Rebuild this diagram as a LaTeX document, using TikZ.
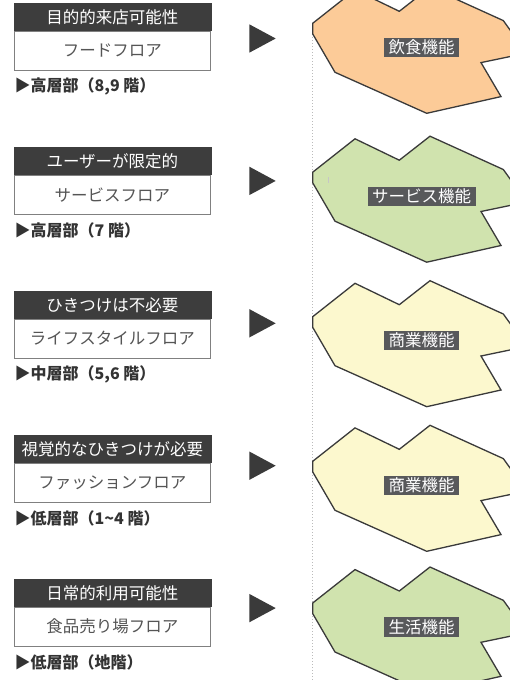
\documentclass[tikz,border=0pt]{standalone}
\usepackage{fontspec}
\setmainfont{Noto Sans CJK JP}
\definecolor{bargray}{HTML}{3D3D3D}
\definecolor{boxgray}{HTML}{808080}
\definecolor{floortext}{HTML}{555555}
\definecolor{notetext}{HTML}{333333}
\definecolor{trigray}{HTML}{3A3A3A}
\definecolor{outlinegray}{HTML}{3A3A3A}
\definecolor{labelgray}{HTML}{58595B}
\definecolor{peach}{HTML}{FCCB98}
\definecolor{leaf}{HTML}{D0E3AE}
\definecolor{cream}{HTML}{FCF8CE}
\definecolor{dotgray}{HTML}{BBBBBB}
\begin{document}
\begin{tikzpicture}[x=1pt,y=-1pt,
  titlebar/.style={fill=bargray, draw=bargray, minimum width=196.7pt, minimum height=27pt, inner sep=0pt, text=white, font=\fontsize{16.5}{16.5}\selectfont},
  floorbox/.style={draw=boxgray, line width=0.8pt, fill=white, minimum width=196.7pt, minimum height=39pt, inner sep=0pt, text=floortext, font=\fontsize{16.5}{16.5}\selectfont},
  levelnote/.style={anchor=west, inner sep=0pt, text=notetext, font=\bfseries\fontsize{16}{16}\selectfont},
  arrowtri/.style={fill=trigray},
  blobline/.style={draw=outlinegray, line width=1.3pt, line join=miter},
  funclabel/.style={fill=labelgray, text=white, inner xsep=4.5pt, inner ysep=2pt, font=\fontsize{16.5}{16.5}\selectfont},
  dotline/.style={draw=dotgray, line width=0.9pt, dash pattern=on 1pt off 2pt}
]
\useasboundingbox (0,0) rectangle (510,680);
\clip (0,0) rectangle (510,680);
\fill[white] (0,0) rectangle (510,680);

% dotted guide
\draw[dotline] (312,34) -- (312,680);

% left column boxes
\foreach \k/\title/\floor/\note in {
  0/目的的来店可能性/フードフロア/{▶高層部（8,9 階）},
  1/ユーザーが限定的/サービスフロア/{▶高層部（7 階）},
  2/ひきつけは不必要/ライフスタイルフロア/{▶中層部（5,6 階）},
  3/視覚的なひきつけが必要/ファッションフロア/{▶低層部（1\textasciitilde 4 階）},
  4/日常的利用可能性/食品売り場フロア/{▶低層部（地階）}}{
  \pgfmathsetmacro{\t}{3.3+144*\k}
  \node[titlebar, anchor=north] (title\k) at (112.35,\t) {\title};
  \node[floorbox, anchor=north] (floor\k) at (title\k.south) {\floor};
  \node[levelnote] (note\k) at (14.5,\t+83) {\note};
  \pgfmathsetmacro{\c}{38.5+142.4*\k}
  \fill[arrowtri] (249.3,\c-14.2) -- (275.7,\c) -- (249.3,\c+14.2) -- cycle;
}

% blobs
\foreach \k/\ay/\col/\lab in {
  1/23.3/peach/飲食機能,
  2/172.2/leaf/サービス機能,
  3/316.7/cream/商業機能,
  4/461.3/cream/商業機能,
  5/603/leaf/生活機能}{
  \begin{scope}[shift={(312.7,\ay)}]
    \draw[blobline, fill=\col] (0,0) -- (0,10.6) -- (22.3,49) -- (114,90) -- (188.3,73.3) -- (168.3,39.3) -- (214,29.8) -- (190.6,-2.7) -- (117.3,-36) -- (86.6,-12) -- (42.3,-33.4) -- cycle;
    \node[funclabel] (func\k) at (109,24) {\lab};
  \end{scope}
}

% small mark
\draw[gray!45, line width=1.4pt] (328.5,177) -- (328.5,183);
\end{tikzpicture}
\end{document}
